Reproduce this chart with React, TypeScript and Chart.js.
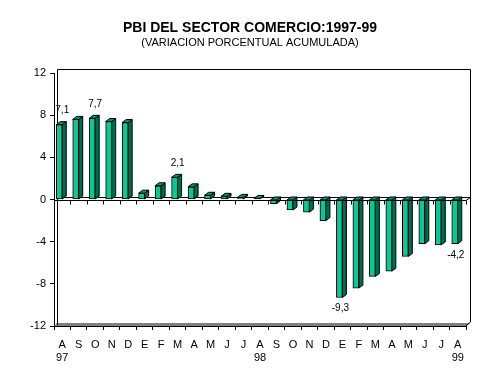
import React, { useEffect, useRef } from 'react';
import { Chart, registerables } from 'chart.js';

Chart.register(...registerables);

const months = ['A', 'S', 'O', 'N', 'D', 'E', 'F', 'M', 'A', 'M', 'J', 'J', 'A', 'S', 'O', 'N', 'D', 'E', 'F', 'M', 'A', 'M', 'J', 'J', 'A'];
const years = ['97', '', '', '', '', '', '', '', '', '', '', '', '98', '', '', '', '', '', '', '', '', '', '', '', '99'];
const values = [7.1, 7.6, 7.7, 7.4, 7.3, 0.6, 1.3, 2.1, 1.2, 0.4, 0.3, 0.2, 0.1, -0.4, -1.0, -1.2, -2.0, -9.3, -8.4, -7.3, -6.8, -5.4, -4.2, -4.3, -4.2];
const labelledIdx = [0, 2, 7, 17, 24];
const yMin = -12;
const yMax = 12;
const yStep = 4;

const TITLE = 'PBI DEL SECTOR COMERCIO:1997-99';
const SUBTITLE = '(VARIACION PORCENTUAL ACUMULADA)';

const DX = 4;
const DY = 3;

const threeD = {
  id: 'threeD',
  beforeDatasetsDraw(chart: any) {
    const { ctx, chartArea: a, scales } = chart;
    const z = Math.round(scales.y.getPixelForValue(0)) + 0.5;
    ctx.save();
    ctx.lineWidth = 1;
    ctx.strokeStyle = '#000';
    // floor
    ctx.fillStyle = '#808080';
    ctx.beginPath();
    ctx.moveTo(a.left, a.bottom);
    ctx.lineTo(a.left + 3, a.bottom - 3);
    ctx.lineTo(a.right + 4, a.bottom - 3);
    ctx.lineTo(a.right, a.bottom);
    ctx.closePath();
    ctx.fill();
    // back walls
    const L = Math.round(a.left) + 3.5;
    const R = Math.round(a.right) + 4.5;
    const T = Math.round(a.top) - 3.5;
    ctx.beginPath();
    ctx.moveTo(L, a.bottom - 1);
    ctx.lineTo(L, T);
    ctx.lineTo(R, T);
    ctx.lineTo(R, a.bottom - 4);
    ctx.lineTo(a.right, a.bottom);
    ctx.stroke();
    // zero plane
    ctx.beginPath();
    ctx.moveTo(L, z - 3);
    ctx.lineTo(R, z - 3);
    ctx.moveTo(a.left, z);
    ctx.lineTo(a.right, z);
    ctx.lineTo(R, z - 3);
    ctx.stroke();
    // ticks on zero line
    const n = months.length;
    ctx.beginPath();
    for (let i = 0; i <= n; i++) {
      const x = Math.round(a.left + (i * (a.right - a.left)) / n) + 0.5;
      ctx.moveTo(x, z);
      ctx.lineTo(x, z + 4);
    }
    ctx.stroke();
    ctx.restore();
  },
  afterDatasetsDraw(chart: any) {
    const { ctx, scales } = chart;
    const z = Math.round(scales.y.getPixelForValue(0)) + 0.5;
    const meta = chart.getDatasetMeta(0);
    ctx.save();
    ctx.lineWidth = 1;
    ctx.strokeStyle = '#000';
    meta.data.forEach((bar: any) => {
      const { x, y, base, width } = bar.getProps(['x', 'y', 'base', 'width'], true);
      const l = x - width / 2;
      const r = x + width / 2;
      const t = Math.min(y, base);
      const b = Math.max(y, base);
      ctx.fillStyle = '#006B50';
      ctx.beginPath();
      ctx.moveTo(r, t);
      ctx.lineTo(r + DX, t - DY);
      ctx.lineTo(r + DX, b - DY);
      ctx.lineTo(r, b);
      ctx.closePath();
      ctx.fill();
      ctx.stroke();
      ctx.fillStyle = '#009970';
      ctx.beginPath();
      ctx.moveTo(l, t);
      ctx.lineTo(l + DX, t - DY);
      ctx.lineTo(r + DX, t - DY);
      ctx.lineTo(r, t);
      ctx.closePath();
      ctx.fill();
      ctx.stroke();
    });
    // front zero line
    const a = chart.chartArea;
    ctx.beginPath();
    ctx.moveTo(a.left, z);
    ctx.lineTo(a.right, z);
    ctx.stroke();
    // data labels
    ctx.fillStyle = '#000';
    ctx.font = '10px "Liberation Sans", Arial, sans-serif';
    ctx.textAlign = 'center';
    ctx.textBaseline = 'middle';
    labelledIdx.forEach((i) => {
      const bar: any = meta.data[i];
      if (!bar) return;
      const { x, y } = bar.getProps(['x', 'y'], true);
      const v = values[i];
      const txt = v.toFixed(1).replace('.', ',');
      if (v >= 0) ctx.fillText(txt, x + 3, y - 14);
      else ctx.fillText(txt, x + 1, y + 11);
    });
    ctx.restore();
  },
};

export default function App() {
  const ref = useRef<HTMLCanvasElement | null>(null);
  useEffect(() => {
    document.body.style.margin = '0';
    const canvas = ref.current;
    if (!canvas) return;
    Chart.defaults.font.family = '"Liberation Sans", Arial, sans-serif';
    Chart.defaults.color = '#000';
    const labels = months.map((m, i) => (years[i] ? [m, years[i]] : [m]));
    const chart = new Chart(canvas, {
      type: 'bar',
      data: {
        labels,
        datasets: [
          {
            data: values,
            backgroundColor: '#00CC99',
            borderColor: '#000',
            borderWidth: 1,
            borderSkipped: false,
            barThickness: 6,
          },
          {
            data: values.map(() => null),
            backgroundColor: 'rgba(0,0,0,0)',
            barThickness: 6,
          },
        ],
      },
      options: {
        animation: false,
        responsive: true,
        maintainAspectRatio: false,
        layout: { padding: { left: 0, right: 0, top: 0, bottom: 0 } },
        plugins: {
          legend: { display: false },
          tooltip: { enabled: false },
          title: {
            display: true,
            text: TITLE,
            color: '#000',
            font: { size: 14, weight: 'bold' },
            padding: { top: 20, bottom: 0 },
          },
          subtitle: {
            display: true,
            text: SUBTITLE,
            color: '#000',
            font: { size: 11, weight: 'normal' },
            padding: { top: 0, bottom: 23 },
          },
        },
        scales: {
          x: {
            grid: {
              display: true,
              drawOnChartArea: false,
              drawTicks: true,
              tickLength: 4,
              color: '#000',
              offset: true,
            },
            border: { display: true, color: '#000', width: 1 },
            ticks: {
              color: '#000',
              font: { size: 11 },
              padding: 8,
              maxRotation: 0,
              autoSkip: false,
            },
            afterFit: (axis: any) => {
              axis.height = 46;
            },
          },
          y: {
            min: yMin,
            max: yMax,
            grid: {
              display: true,
              drawOnChartArea: false,
              drawTicks: true,
              tickLength: 4,
              color: '#000',
            },
            border: { display: true, color: '#000', width: 1 },
            ticks: {
              stepSize: yStep,
              color: '#000',
              font: { size: 11 },
              padding: 4,
            },
            afterFit: (axis: any) => {
              axis.width = 54;
            },
          },
          yRight: {
            position: 'right',
            min: yMin,
            max: yMax,
            grid: { display: false },
            border: { display: false },
            ticks: { display: false },
            afterFit: (axis: any) => {
              axis.width = 34;
            },
          },
        },
      },
      plugins: [threeD],
    });
    return () => chart.destroy();
  }, []);
  return (
    <div style={{ width: 500, height: 372, position: 'relative', background: '#fff' }}>
      <canvas ref={ref} />
    </div>
  );
}
